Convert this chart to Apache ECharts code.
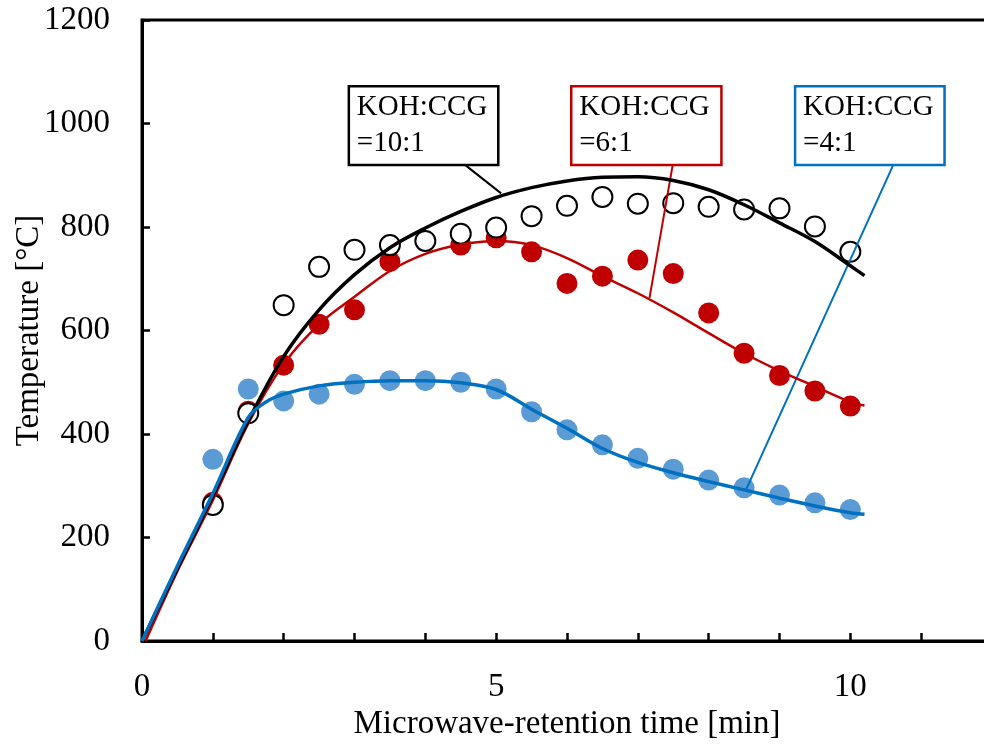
<!DOCTYPE html>
<html>
<head>
<meta charset="utf-8">
<script src="https://cdn.jsdelivr.net/npm/echarts@6/dist/echarts.min.js"></script>
<style>
html,body{margin:0;padding:0;background:#fff;}
#chart{width:984px;height:745px;}
</style>
</head>
<body>
<div id="chart"></div>
<script>
// ---- data ----
const timeMeasured = [1, 1.5, 2, 2.5, 3, 3.5, 4, 4.5, 5, 5.5, 6, 6.5, 7, 7.5, 8, 8.5, 9, 9.5, 10];
const temp10 = [263, 440, 649, 723, 756, 765, 773, 787, 799, 821, 841, 858, 845, 846, 839, 834, 836, 801, 752];
const temp6  = [268, 444, 533, 612, 640, 733, 773, 765, 779, 752, 691, 705, 736, 710, 634, 556, 513, 483, 454];
const temp4  = [351, 487, 464, 477, 496, 503, 503, 500, 487, 443, 408, 379, 353, 332, 311, 296, 282, 267, 254];

const fitX10 = [0, 0.5, 1, 1.5, 2, 2.5, 3, 3.5, 4, 4.5, 5, 5.5, 6, 6.5, 7, 7.5, 8, 8.5, 9, 9.5, 10, 10.2];
const fitY10 = [0, 140, 280, 425, 550, 640, 708, 760, 798, 830, 857, 876, 889, 896, 897, 890, 872, 843, 808, 772, 725, 706];
const fitX6  = [0.05, 0.5, 1, 1.5, 2, 2.5, 3, 3.5, 4, 4.5, 5, 5.5, 6, 6.5, 7, 7.5, 8, 8.5, 9, 9.5, 10, 10.2];
const fitY6  = [0, 135, 272, 420, 535, 612, 665, 715, 748, 766, 773, 765, 740, 705, 672, 635, 595, 556, 522, 492, 462, 455];
const fitX4  = [0, 0.5, 1, 1.5, 1.75, 2, 2.5, 3, 3.5, 4, 4.5, 5, 5.5, 6, 6.5, 7, 7.5, 8, 8.5, 9, 9.5, 10, 10.2];
const fitY4  = [0, 145, 285, 432, 462, 477, 493, 500, 503, 503, 499, 486, 448, 411, 372, 345, 325, 308, 292, 276, 261, 248, 245];

const annoTexts = ['KOH:CCG\n=10:1', 'KOH:CCG\n=6:1', 'KOH:CCG\n=4:1'];
const annoColors = ['#000000', '#C00000', '#0070C0'];
const annoBoxX = [[2.92, 5.03], [6.06, 8.18], [9.22, 11.33]];
const annoBoxY = [1072, 920];
const leaderFrom = [[4.56, 920], [7.49, 918], [10.6, 918]];
const leaderTo   = [[5.07, 865], [7.165, 663], [8.52, 290]];

const xTicks = [0, 5, 10];
// ---- chart ----
const FONT = '"Liberation Serif", "Times New Roman", serif';
const zip = (xs, ys) => xs.map((x, i) => [x, ys[i]]);

const chart = echarts.init(document.getElementById('chart'), null, {renderer: 'canvas'});

const series = [
  {type: 'scatter', name: '4:1', data: zip(timeMeasured, temp4), symbol: 'circle', symbolSize: 21,
   itemStyle: {color: '#5B9BD5', opacity: 1}, z: 2},
  {type: 'scatter', name: '6:1', data: zip(timeMeasured, temp6), symbol: 'circle', symbolSize: 21,
   itemStyle: {color: '#C00000', opacity: 1}, z: 3},
  {type: 'scatter', name: '10:1', data: zip(timeMeasured, temp10), symbol: 'circle', symbolSize: 20,
   itemStyle: {color: '#ffffff', borderColor: '#000000', borderWidth: 2, opacity: 1}, z: 4}
];
for (let i = 0; i < 3; i++) {
  series.push({type: 'line', data: [leaderFrom[i], leaderTo[i]], showSymbol: false, symbol: 'none',
    lineStyle: {color: annoColors[i], width: 2}, z: 5, silent: true});
}
series.push({type: 'line', data: zip(fitX6, fitY6), smooth: 0.35, showSymbol: false, symbol: 'none',
  lineStyle: {color: '#C00000', width: 2.5}, z: 6});
series.push({type: 'line', data: zip(fitX10, fitY10), smooth: 0.35, showSymbol: false, symbol: 'none',
  lineStyle: {color: '#000000', width: 3.5}, z: 7});
series.push({type: 'line', data: zip(fitX4, fitY4), smooth: 0.35, showSymbol: false, symbol: 'none',
  lineStyle: {color: '#0070C0', width: 3.5}, z: 8});

chart.setOption({
  animation: false,
  backgroundColor: '#ffffff',
  grid: {left: 142, right: -8, top: 20, bottom: 104, show: true, borderColor: '#000', borderWidth: 3,
    containLabel: false, outerBoundsMode: 'none'},
  xAxis: {
    type: 'value', min: 0, max: 12, interval: 1,
    name: 'Microwave-retention time [min]', nameLocation: 'middle', nameGap: 67, nameMoveOverlap: false,
    nameTextStyle: {fontFamily: FONT, fontSize: 33, color: '#000'},
    axisLine: {show: true, onZero: false, lineStyle: {color: '#000', width: 3}},
    axisTick: {show: true, inside: true, length: 8, lineStyle: {color: '#000', width: 2.5}},
    axisLabel: {fontFamily: FONT, fontSize: 33, color: '#000', margin: 30,
      formatter: v => (xTicks.indexOf(v) >= 0 ? String(v) : '')},
    splitLine: {show: false}
  },
  yAxis: {
    type: 'value', min: 0, max: 1200, interval: 200,
    name: 'Temperature [°C]', nameLocation: 'middle', nameGap: 96, nameMoveOverlap: false,
    nameTextStyle: {fontFamily: FONT, fontSize: 33, color: '#000'},
    axisLine: {show: true, onZero: false, lineStyle: {color: '#000', width: 3}},
    axisTick: {show: true, inside: true, length: 8, lineStyle: {color: '#000', width: 2.5}},
    axisLabel: {fontFamily: FONT, fontSize: 33, color: '#000', margin: 32, formatter: v => String(v)},
    splitLine: {show: false}
  },
  series: series
});

// annotation boxes positioned through the axes
const graphics = [];
for (let i = 0; i < 3; i++) {
  const p1 = chart.convertToPixel({gridIndex: 0}, [annoBoxX[i][0], annoBoxY[0]]);
  const p2 = chart.convertToPixel({gridIndex: 0}, [annoBoxX[i][1], annoBoxY[1]]);
  graphics.push({
    type: 'rect', z: 100,
    shape: {x: p1[0], y: p1[1], width: p2[0] - p1[0], height: p2[1] - p1[1]},
    style: {fill: '#ffffff', stroke: annoColors[i], lineWidth: 2.5}
  });
  graphics.push({
    type: 'text', z: 101, x: p1[0] + 8, y: p1[1] + 3,
    style: {text: annoTexts[i], font: '29px ' + FONT, fill: '#000', lineHeight: 36, textVerticalAlign: 'top'}
  });
}
chart.setOption({graphic: graphics});
</script>
</body>
</html>
